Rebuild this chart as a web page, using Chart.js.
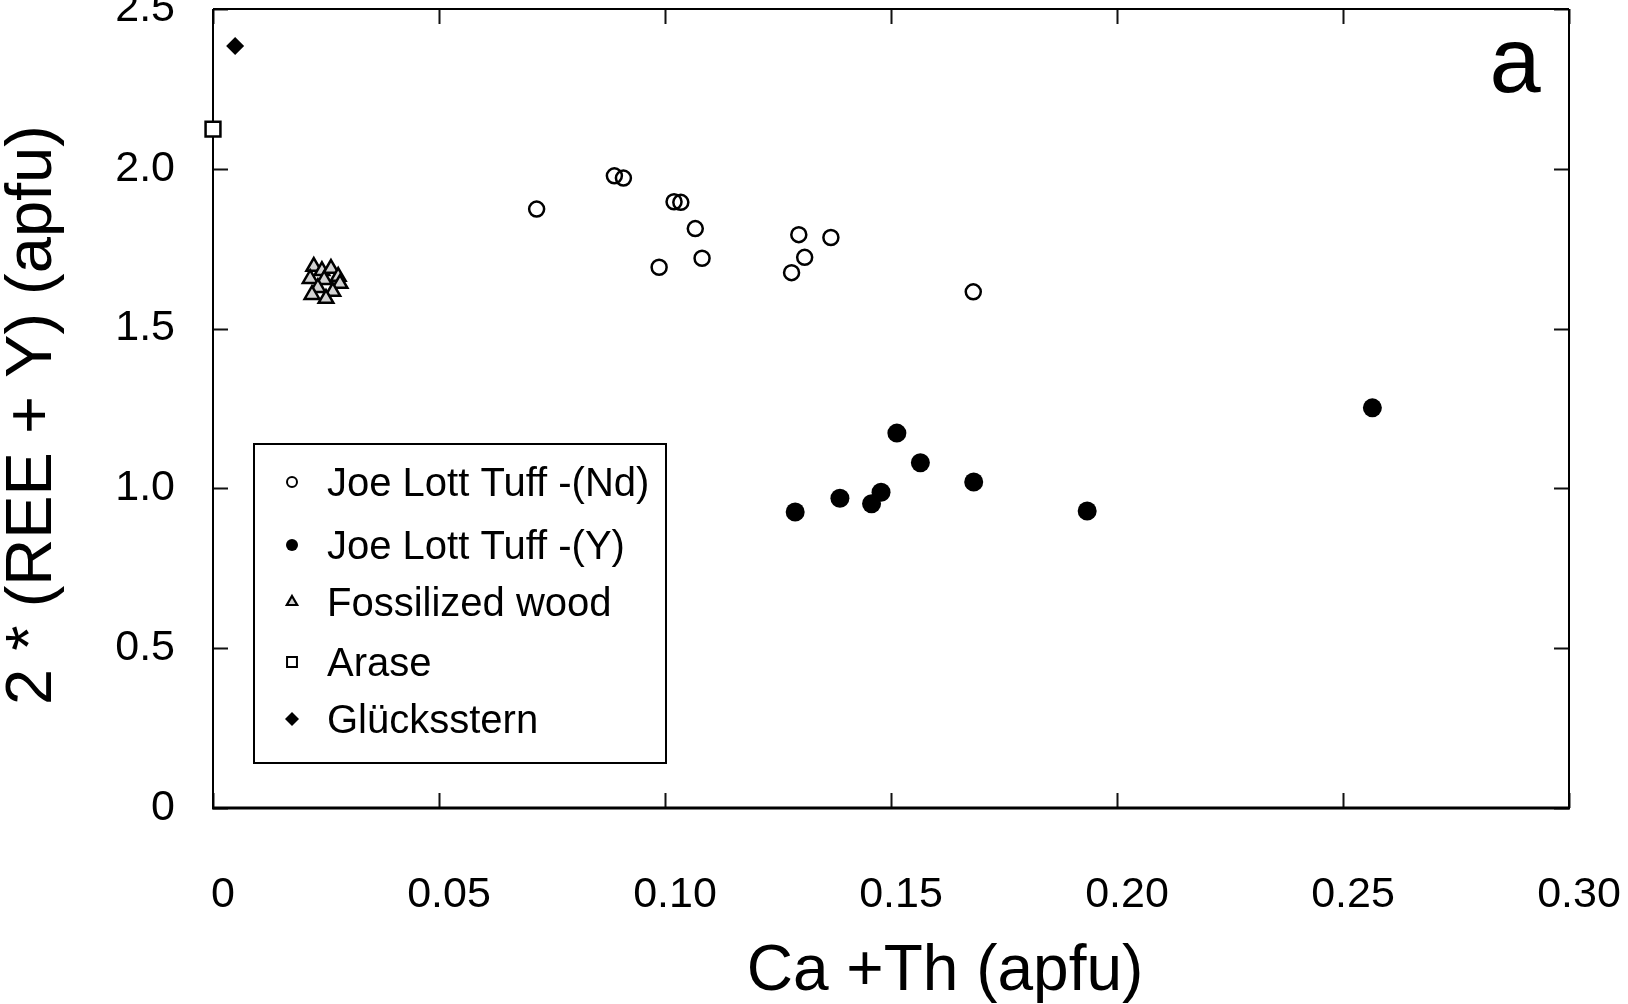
<!DOCTYPE html>
<html>
<head>
<meta charset="utf-8">
<title>2*(REE+Y) vs Ca+Th</title>
<script src="https://cdn.jsdelivr.net/npm/chart.js@4"></script>
<style>
  html, body { margin: 0; padding: 0; background: #ffffff; }
  #wrap { width: 1628px; height: 1004px; }
</style>
</head>
<body>
<div id="wrap"><canvas id="chart" width="1628" height="1004"></canvas></div>
<script>
// Series names (legend order)
const seriesNames = ['Joe Lott Tuff -(Nd)', 'Joe Lott Tuff -(Y)', 'Fossilized wood', 'Arase', 'Glücksstern'];

// Joe Lott Tuff, Nd-dominant
const ndX = [0.0716, 0.0888, 0.0908, 0.1020, 0.1035, 0.1067, 0.0987, 0.1082, 0.1296, 0.1367, 0.1309, 0.1280, 0.1682];
const ndY = [1.874, 1.978, 1.971, 1.897, 1.895, 1.813, 1.692, 1.720, 1.794, 1.785, 1.723, 1.675, 1.615];

// Joe Lott Tuff, Y-dominant
const ytX = [0.2565, 0.1513, 0.1565, 0.1683, 0.1478, 0.1387, 0.1457, 0.1288, 0.1934];
const ytY = [1.252, 1.173, 1.080, 1.020, 0.988, 0.969, 0.952, 0.926, 0.929];

// Fossilized wood
const woodX = [0.0223, 0.0241, 0.0261, 0.0277, 0.0215, 0.0246, 0.0281, 0.0232, 0.0219, 0.0265, 0.0250];
const woodY = [1.694, 1.681, 1.688, 1.663, 1.656, 1.653, 1.641, 1.628, 1.606, 1.616, 1.594];

// Arase
const araseX = [0.0];
const araseY = [2.124];

// Glücksstern
const gluX = [0.0049];
const gluY = [2.384];

// Axis ticks and titles
const xTickValues = [0, 0.05, 0.10, 0.15, 0.20, 0.25, 0.30];
const xTickLabels = ['0', '0.05', '0.10', '0.15', '0.20', '0.25', '0.30'];
const yTickValues = [0, 0.5, 1.0, 1.5, 2.0, 2.5];
const yTickLabels = ['0', '0.5', '1.0', '1.5', '2.0', '2.5'];
const xTitle = 'Ca +Th (apfu)';
const yTitle = '2 * (REE + Y) (apfu)';
const panelLetter = 'a';

const FONT = '"Liberation Sans", Arial, Helvetica, sans-serif';

function toPoints(xs, ys) {
  return xs.map((x, i) => ({ x: x, y: ys[i] }));
}

const styles = [
  { pointStyle: 'circle', pointRadius: 7.5, pointBorderWidth: 2.5, pointBackgroundColor: 'rgba(0,0,0,0)', pointBorderColor: '#000',
    legend: { radius: 5, borderWidth: 2, fill: 'rgba(0,0,0,0)' } },
  { pointStyle: 'circle', pointRadius: 9.5, pointBorderWidth: 0, pointBackgroundColor: '#000', pointBorderColor: '#000',
    legend: { radius: 6, borderWidth: 0, fill: '#000' } },
  { pointStyle: 'triangle', pointRadius: 8.5, pointBorderWidth: 2.5, pointBackgroundColor: '#d2d2d2', pointBorderColor: '#000',
    legend: { radius: 6, borderWidth: 2.2, fill: '#d2d2d2' } },
  { pointStyle: 'rect', pointRadius: 10.5, pointBorderWidth: 2.5, pointBackgroundColor: '#fff', pointBorderColor: '#000',
    legend: { radius: 7, borderWidth: 2, fill: '#fff' } },
  { pointStyle: 'rectRot', pointRadius: 9, pointBorderWidth: 0, pointBackgroundColor: '#000', pointBorderColor: '#000',
    legend: { radius: 7, borderWidth: 0, fill: '#000' } }
];

const seriesData = [
  toPoints(ndX, ndY),
  toPoints(ytX, ytY),
  toPoints(woodX, woodY),
  toPoints(araseX, araseY),
  toPoints(gluX, gluY)
];

const datasets = seriesData.map((pts, i) => ({
  label: seriesNames[i],
  data: pts,
  showLine: false,
  clip: false,
  pointStyle: styles[i].pointStyle,
  pointRadius: styles[i].pointRadius,
  pointHoverRadius: styles[i].pointRadius,
  pointBorderWidth: styles[i].pointBorderWidth,
  pointBackgroundColor: styles[i].pointBackgroundColor,
  pointBorderColor: styles[i].pointBorderColor,
  order: i
}));

// Frame with inward tick marks on all four sides, legend box and titles
const framePlugin = {
  id: 'frame',
  beforeDatasetsDraw(chart) {
    const ctx = chart.ctx;
    const a = chart.chartArea;
    const xs = chart.scales.x, ys = chart.scales.y;
    const tickLen = 15;
    ctx.save();
    ctx.strokeStyle = '#111';
    ctx.lineWidth = 2;
    ctx.beginPath();
    xTickValues.forEach(v => {
      const px = Math.round(xs.getPixelForValue(v)) + 0.5;
      ctx.moveTo(px, a.bottom); ctx.lineTo(px, a.bottom - tickLen);
      ctx.moveTo(px, a.top); ctx.lineTo(px, a.top + tickLen);
    });
    yTickValues.forEach(v => {
      const py = Math.round(ys.getPixelForValue(v)) + 0.5;
      ctx.moveTo(a.left, py); ctx.lineTo(a.left + tickLen, py);
      ctx.moveTo(a.right, py); ctx.lineTo(a.right - tickLen, py);
    });
    ctx.stroke();

    ctx.strokeStyle = '#000';
    ctx.lineWidth = 2;
    ctx.beginPath();
    ctx.moveTo(a.left, a.top); ctx.lineTo(a.right, a.top);
    ctx.moveTo(a.right, a.top); ctx.lineTo(a.right, a.bottom);
    ctx.moveTo(a.left, a.top); ctx.lineTo(a.left, a.bottom);
    ctx.stroke();
    ctx.lineWidth = 3;
    ctx.beginPath();
    ctx.moveTo(a.left - 1, a.bottom); ctx.lineTo(a.right + 1, a.bottom);
    ctx.stroke();
    ctx.restore();
  },
  afterDraw(chart) {
    const ctx = chart.ctx;
    ctx.save();

    // Legend box
    const box = { x: 254, y: 444, w: 412, h: 319 };
    ctx.fillStyle = '#fff';
    ctx.fillRect(box.x, box.y, box.w, box.h);
    ctx.strokeStyle = '#000';
    ctx.lineWidth = 2;
    ctx.strokeRect(box.x, box.y, box.w, box.h);

    const rowY = [485, 548, 605, 665, 722];
    const markX = 292, textX = 327;
    ctx.font = '40px ' + FONT;
    ctx.textBaseline = 'middle';
    ctx.textAlign = 'left';
    seriesNames.forEach((name, i) => {
      const y = rowY[i];
      const lg = styles[i].legend;
      ctx.fillStyle = lg.fill;
      ctx.strokeStyle = '#000';
      ctx.lineWidth = lg.borderWidth;
      Chart.helpers.drawPoint(ctx, {
        pointStyle: styles[i].pointStyle,
        radius: lg.radius,
        rotation: 0,
        borderWidth: lg.borderWidth
      }, markX, y - 3);
      ctx.fillStyle = '#000';
      ctx.fillText(name, textX, y);
    });

    // Axis titles
    ctx.fillStyle = '#000';
    ctx.font = '64px ' + FONT;
    ctx.textAlign = 'center';
    ctx.textBaseline = 'alphabetic';
    ctx.fillText(xTitle, 945, 990);

    ctx.save();
    ctx.translate(33, 415);
    ctx.rotate(-Math.PI / 2);
    ctx.font = '65px ' + FONT;
    ctx.textBaseline = 'middle';
    ctx.fillText(yTitle, 0, 0);
    ctx.restore();

    // Panel letter
    ctx.font = '92px ' + FONT;
    ctx.textAlign = 'center';
    ctx.textBaseline = 'alphabetic';
    ctx.fillText(panelLetter, 1515, 92);

    ctx.restore();
  }
};

new Chart(document.getElementById('chart'), {
  type: 'scatter',
  data: { datasets: datasets },
  options: {
    responsive: false,
    animation: false,
    events: [],
    layout: { autoPadding: false, padding: { left: 0, right: 59, top: 9, bottom: 0 } },
    plugins: {
      legend: { display: false },
      tooltip: { enabled: false }
    },
    scales: {
      x: {
        type: 'linear',
        min: 0,
        max: 0.30,
        grid: { display: false, drawTicks: false },
        border: { display: false },
        afterBuildTicks(scale) { scale.ticks = xTickValues.map(v => ({ value: v })); },
        afterFit(scale) {
          scale.height = 196;
          scale.paddingLeft = 0;
          scale.paddingRight = 0;
        },
        ticks: {
          padding: 61,
          labelOffset: 10,
          maxRotation: 0,
          autoSkip: false,
          color: '#000',
          font: { family: FONT, size: 43 },
          callback: (v, i) => xTickLabels[i]
        },
        title: { display: false }
      },
      y: {
        type: 'linear',
        min: 0,
        max: 2.5,
        grid: { display: false, drawTicks: false },
        border: { display: false },
        afterBuildTicks(scale) { scale.ticks = yTickValues.map(v => ({ value: v })); },
        afterFit(scale) {
          scale.width = 213;
          scale.paddingTop = 0;
          scale.paddingBottom = 0;
        },
        ticks: {
          padding: 38,
          autoSkip: false,
          color: '#000',
          font: { family: FONT, size: 43 },
          callback: (v, i) => yTickLabels[i]
        },
        title: { display: false }
      }
    }
  },
  plugins: [framePlugin]
});
</script>
</body>
</html>
